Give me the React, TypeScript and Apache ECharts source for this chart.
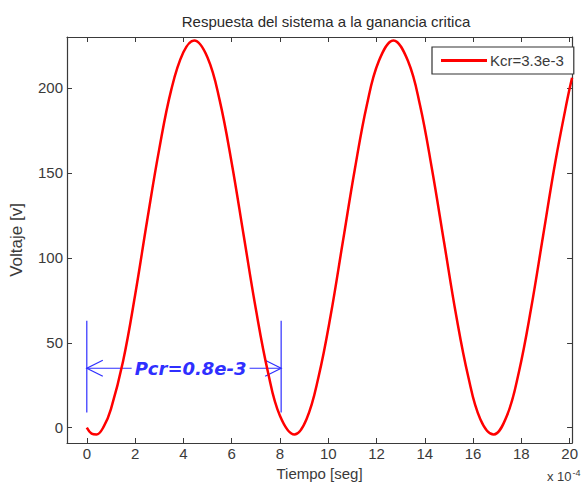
import React, { useEffect, useRef } from "react";
import * as echarts from "echarts";

// Time axis values (units of 1e-4 s) and voltage readings
const timeValues = [0, 0.2, 0.4, 0.7, 1.0, 1.5, 2.0, 2.5, 3.0, 3.5, 4.0, 4.45, 5.0, 5.5, 6.0, 6.5, 7.0, 7.5, 8.0, 8.6, 9.1, 9.6, 10.1, 10.6, 11.1, 11.6, 12.1, 12.7, 13.3, 13.8, 14.3, 14.8, 15.3, 15.8, 16.3, 16.85, 17.4, 17.9, 18.4, 18.9, 19.4, 19.9, 20.1];
const voltageValues = [0, -3.5, -4, 0.6, 11, 39, 78, 122, 164, 199, 221, 228, 218, 193, 156, 113, 70, 33, 7, -4, 5, 30, 66, 109, 152, 190, 216, 228, 216, 190, 152, 109, 66, 30, 5, -4, 7, 33, 70, 113, 156, 193, 206];

const xTicks = [0, 2, 4, 6, 8, 10, 12, 14, 16, 18, 20];
const yTicks = [0, 50, 100, 150, 200];

const seriesName = "Kcr=3.3e-3";
const titleText = "Respuesta del sistema a la ganancia critica";
const xName = "Tiempo [seg]";
const yName = "Voltaje [v]";

// Annotation (period marker)
const periodStart = 0;
const periodEnd = 8.05;
const bracketLow = 9;
const bracketHigh = 63;
const arrowLevel = 35;
const periodLabel = "Pcr=0.8e-3";
const labelAt = 4.3;

export default function App() {
  const ref = useRef<HTMLDivElement>(null);

  useEffect(() => {
    if (!ref.current) return;
    const chart = echarts.init(ref.current, undefined, { renderer: "svg" });
    const axisColor = "#3a3a3a";
    const labelColor = "#3a3a3a";
    const font = "Liberation Sans, Arial, sans-serif";
    const blue = "#2f2fff";

    const baseX = {
      type: "value" as const,
      min: -0.82,
      max: 20.1,
      splitLine: { show: false },
      axisLine: { show: true, onZero: false, lineStyle: { color: axisColor, width: 1.2 } },
    };
    const baseY = {
      type: "value" as const,
      min: -9,
      max: 230,
      splitLine: { show: false },
      axisLine: { show: true, onZero: false, lineStyle: { color: axisColor, width: 1.2 } },
    };

    chart.setOption({
      animation: false,
      backgroundColor: "#fff",
      title: {
        text: titleText,
        left: 321,
        textAlign: "center",
        top: 9,
        textStyle: { fontSize: 15, fontWeight: "normal", color: "#2a2a2a", fontFamily: font },
      },
      legend: {
        data: [{ name: seriesName, icon: "rect" }],
        left: 432,
        top: 47,
        orient: "vertical",
        padding: [6, 10, 6, 9],
        itemWidth: 46,
        itemHeight: 3,
        itemGap: 4,
        borderColor: "#333",
        borderWidth: 1.2,
        backgroundColor: "#fff",
        itemStyle: { color: "#ff0000" },
        textStyle: { fontSize: 15, color: labelColor, fontFamily: font, padding: [0, 0, 0, -2], lineHeight: 15 },
      },
      grid: { left: 66, right: 3, top: 37, bottom: 43 },
      xAxis: [
        {
          ...baseX,
          position: "bottom",
          name: xName,
          nameLocation: "middle",
          nameGap: 21,
          nameTextStyle: { fontSize: 15, color: labelColor, fontFamily: font },
          axisTick: { show: true, inside: true, length: 5, customValues: xTicks, lineStyle: { color: axisColor } },
          axisLabel: { customValues: xTicks, fontSize: 15, color: labelColor, fontFamily: font, margin: 3 },
        },
        {
          ...baseX,
          position: "top",
          axisTick: { show: true, inside: true, length: 5, customValues: xTicks, lineStyle: { color: axisColor } },
          axisLabel: { show: false },
        },
      ],
      yAxis: [
        {
          ...baseY,
          position: "left",
          name: yName,
          nameLocation: "middle",
          nameGap: 42,
          nameTextStyle: { fontSize: 17, color: labelColor, fontFamily: font },
          axisTick: { show: true, inside: true, length: 5, customValues: yTicks, lineStyle: { color: axisColor } },
          axisLabel: { customValues: yTicks, fontSize: 15, color: labelColor, fontFamily: font, margin: 4 },
        },
        {
          ...baseY,
          position: "right",
          axisTick: { show: true, inside: true, length: 5, customValues: yTicks, lineStyle: { color: axisColor } },
          axisLabel: { show: false },
        },
      ],
      graphic: [
        {
          type: "text",
          left: 547,
          top: 468,
          style: {
            text: "x 10{sup|-4}",
            fontSize: 13,
            fill: labelColor,
            fontFamily: font,
            rich: { sup: { fontSize: 9, verticalAlign: "top", padding: [0, 0, 8, 1], fill: labelColor } },
          },
        },
      ],
      series: [
        {
          type: "custom",
          name: "annotation",
          xAxisIndex: 0,
          yAxisIndex: 0,
          silent: true,
          z: 1,
          data: [[periodStart, arrowLevel]],
          renderItem: (_params: any, api: any) => {
            const l0 = api.coord([periodStart, bracketLow]);
            const l1 = api.coord([periodStart, bracketHigh]);
            const r0 = api.coord([periodEnd, bracketLow]);
            const r1 = api.coord([periodEnd, bracketHigh]);
            const a0 = api.coord([periodStart, arrowLevel]);
            const a1 = api.coord([periodEnd, arrowLevel]);
            const t = api.coord([labelAt, arrowLevel]);
            const lineStyle = { stroke: blue, lineWidth: 1.2, fill: null };
            return {
              type: "group",
              children: [
                { type: "line", shape: { x1: l0[0], y1: l0[1], x2: l1[0], y2: l1[1] }, style: lineStyle },
                { type: "line", shape: { x1: r0[0], y1: r0[1], x2: r1[0], y2: r1[1] }, style: lineStyle },
                { type: "line", shape: { x1: a0[0], y1: a0[1], x2: a1[0], y2: a1[1] }, style: lineStyle },
                {
                  type: "polyline",
                  shape: { points: [[a0[0] + 16, a0[1] - 8], [a0[0], a0[1]], [a0[0] + 16, a0[1] + 8]] },
                  style: lineStyle,
                },
                {
                  type: "polyline",
                  shape: { points: [[a1[0] - 16, a1[1] - 8], [a1[0], a1[1]], [a1[0] - 16, a1[1] + 8]] },
                  style: lineStyle,
                },
                {
                  type: "text",
                  x: t[0],
                  y: t[1],
                  style: {
                    text: periodLabel,
                    align: "center",
                    verticalAlign: "middle",
                    fill: blue,
                    fontSize: 18,
                    fontStyle: "italic",
                    fontWeight: "bold",
                    fontFamily: "DejaVu Sans, sans-serif",
                    backgroundColor: "#fff",
                    padding: [0, 3],
                  },
                },
              ],
            };
          },
        },
        {
          type: "line",
          name: seriesName,
          xAxisIndex: 0,
          yAxisIndex: 0,
          z: 3,
          data: timeValues.map((t, i) => [t, voltageValues[i]]),
          smooth: 0.4,
          showSymbol: false,
          symbol: "none",
          lineStyle: { color: "#ff0000", width: 2.5 },
          itemStyle: { color: "#ff0000" },
        },
      ],
    });
    return () => chart.dispose();
  }, []);

  return (
    <div
      ref={ref}
      style={{ position: "fixed", left: 0, top: 0, width: 581, height: 486, background: "#fff" }}
    />
  );
}
